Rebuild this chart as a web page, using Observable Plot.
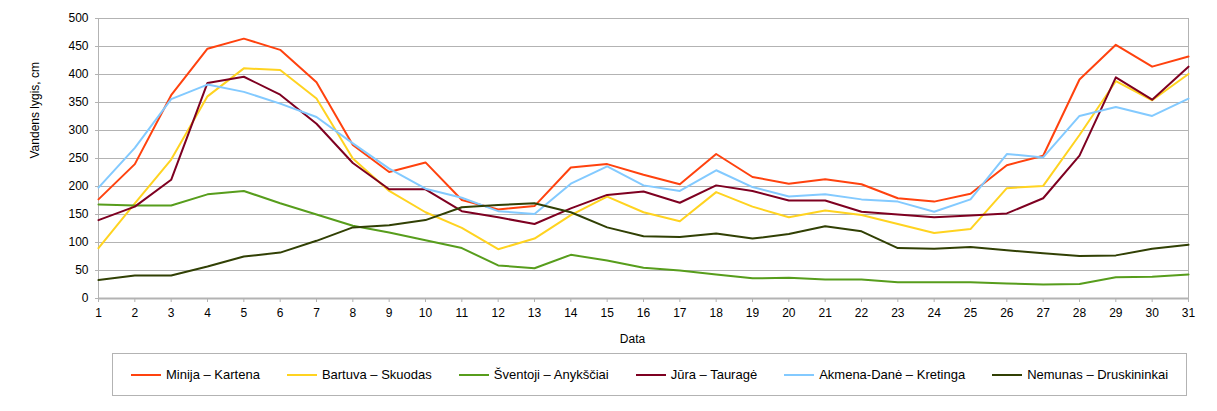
<!DOCTYPE html>
<html>
<head>
<meta charset="utf-8">
<script src="https://cdn.jsdelivr.net/npm/d3@7"></script>
<script src="https://cdn.jsdelivr.net/npm/@observablehq/plot@0.6"></script>
<style>
  body { margin: 0; background: #fff; font-family: "Liberation Sans", Arial, sans-serif; }
  #wrap { position: relative; width: 1217px; height: 411px; }
  #legend { position: absolute; left: 112px; top: 353px; width: 1073px; height: 41px;
    border: 1px solid #b3b3b3; display: flex; align-items: center; justify-content: center;
    font-size: 13px; color: #000; box-sizing: content-box; }
  .item { display: flex; align-items: center; margin: 0 13.5px; }
  .sw { width: 30px; height: 2px; margin-right: 5px; }
</style>
</head>
<body>
<div id="wrap"><div id="chart"></div><div id="legend"></div></div>
<script>
const days = d3.range(1, 32);
const seriesNames = ["Minija – Kartena", "Bartuva – Skuodas", "Šventoji – Anykščiai", "Jūra – Tauragė", "Akmena-Danė – Kretinga", "Nemunas – Druskininkai"];
const seriesColors = ["#ff420e", "#ffd320", "#579d1c", "#7e0021", "#83caff", "#314004"];

const minija   = [177,240,363,446,464,444,386,274,226,243,176,159,165,234,240,221,204,258,217,205,213,204,179,173,187,238,255,391,453,414,432];
const bartuva  = [90,170,248,361,411,408,357,250,192,154,126,88,107,149,182,154,138,190,164,145,157,149,133,117,124,197,201,292,388,354,401];
const sventoji = [168,166,166,186,192,170,150,130,118,104,90,59,54,78,68,55,50,43,36,37,34,34,29,29,29,27,25,26,38,39,43];
const jura     = [140,164,212,385,396,364,312,242,195,195,156,145,133,161,185,191,171,202,192,175,175,155,150,145,148,152,179,255,395,355,414];
const akmena   = [198,269,356,382,369,348,324,277,232,196,180,156,151,205,236,202,192,229,199,182,186,177,173,155,177,258,252,326,342,326,357];
const nemunas  = [33,41,41,57,75,82,103,127,131,140,163,167,170,154,127,111,110,116,107,115,129,120,90,89,92,86,81,76,77,89,96];

const yTicks = d3.range(0, 501, 50);
const yLabel = "Vandens lygis, cm";
const xLabel = "Data";

const seriesValues = [minija, bartuva, sventoji, jura, akmena, nemunas];
const rows = [];
seriesNames.forEach((name, i) => {
  seriesValues[i].forEach((v, j) => rows.push({series: name, day: days[j], value: v}));
});

const gray = "#b3b3b3";
const chart = Plot.plot({
  width: 1217,
  height: 350,
  marginLeft: 98,
  marginRight: 29,
  marginTop: 18,
  marginBottom: 52,
  style: { fontFamily: "Liberation Sans, Arial, sans-serif", fontSize: "12px", color: "#000", background: "#fff" },
  x: { domain: [1, 31] },
  y: { domain: [0, 500] },
  color: { domain: seriesNames, range: seriesColors },
  marks: [
    Plot.gridY(yTicks, { stroke: gray, strokeOpacity: 1, strokeWidth: 1 }),
    Plot.frame({ stroke: gray, strokeWidth: 1 }),
    Plot.ruleY([0], { stroke: gray, strokeWidth: 2 }),
    Plot.axisY(yTicks, { tickSize: 3, tickPadding: 7, stroke: gray, label: null, fill: "#000" }),
    Plot.axisX(days, { tickSize: 4, tickPadding: 6, stroke: gray, label: null, tickFormat: d => String(d), fill: "#000" }),
    Plot.text([yLabel], { frameAnchor: "left", rotate: -90, dx: -63, fontSize: 12, fill: "#000" }),
    Plot.text([xLabel], { frameAnchor: "bottom", dx: -11, dy: 44, fontSize: 12, fill: "#000" }),
    Plot.line(rows, { x: "day", y: "value", stroke: "series", strokeWidth: 2, z: "series", strokeLinejoin: "round" })
  ]
});
document.getElementById("chart").appendChild(chart);

const legend = document.getElementById("legend");
seriesNames.forEach((name, i) => {
  const it = document.createElement("div");
  it.className = "item";
  const sw = document.createElement("div");
  sw.className = "sw";
  sw.style.background = seriesColors[i];
  const t = document.createElement("span");
  t.textContent = name;
  it.appendChild(sw); it.appendChild(t);
  legend.appendChild(it);
});
</script>
</body>
</html>
